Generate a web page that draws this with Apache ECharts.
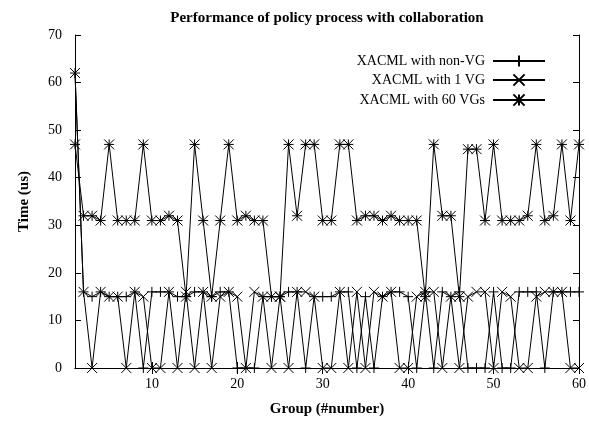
<!DOCTYPE html>
<html>
<head>
<meta charset="utf-8">
<script src="https://cdn.jsdelivr.net/npm/echarts@6/dist/echarts.min.js"></script>
<style>html,body{margin:0;padding:0;background:#fff}#c{width:589px;height:427px}</style>
</head>
<body>
<div id="c"></div>
<script>
var groups = ['1','2','3','4','5','6','7','8','9','10','11','12','13','14','15','16','17','18','19','20',
  '21','22','23','24','25','26','27','28','29','30','31','32','33','34','35','36','37','38','39','40',
  '41','42','43','44','45','46','47','48','49','50','51','52','53','54','55','56','57','58','59','60'];
var nonVG = [62,16,15,16,15,15,15,16,0,16, 16,16,15,15,16,16,15,16,16,0, 0,0,15,15,15,16,16,0,15,15,
  15,16,16,0,15,0,15,16,16,15, 0,16,0,16,15,16,0,0,0,16, 0,0,16,16,16,0,16,16,16,16];
var oneVG = [62,16,0,16,15,15,0,16,15,0, 0,16,0,16,0,16,0,15,16,15, 0,16,15,0,15,0,16,16,15,0,
  0,16,0,16,0,16,15,16,0,0, 15,16,16,0,15,0,15,16,16,0, 16,15,0,0,15,16,16,16,0,0];
var sixtyVG = [47,32,32,31,47,31,31,31,47,31, 31,32,31,15,47,31,15,31,47,31, 32,31,31,15,15,47,32,47,47,31,
  31,47,47,31,32,32,31,32,31,31, 31,15,47,32,32,15,46,46,31,47, 31,31,31,32,47,31,32,47,31,47];
var yTicks = [0,10,20,30,40,50,60,70];
var names = ['XACML with non-VG','XACML with 1 VG','XACML with 60 VGs'];
var titleText = 'Performance of policy process with collaboration';

var FONT = 'Liberation Serif';
var plusSym = 'path://M5,0L5,10M0,5L10,5';
var crossSym = 'path://M0,0L10,10M10,0L0,10';
var starSym = 'path://M5,0L5,10M0,5L10,5M0,0L10,10M10,0L0,10';

function mk(name, data, sym) {
  return {
    name: name, type: 'line', data: data, xAxisIndex: 0, yAxisIndex: 0,
    symbol: sym, symbolSize: 10, showSymbol: true, showAllSymbol: true,
    lineStyle: {color: '#000', width: 1},
    itemStyle: {color: '#000', borderColor: '#000', borderWidth: 1},
    emphasis: {disabled: true}, animation: false
  };
}
function tickInt(i, v) { return Number(v) % 10 === 0; }
function leg(name, top) {
  return {
    data: [name], right: 43, top: top, align: 'right', orient: 'vertical',
    itemWidth: 52, itemHeight: 14, padding: 0,
    textStyle: {fontFamily: FONT, fontSize: 14, color: '#000', padding: [0, 3, 0, 0]},
    selectedMode: false
  };
}
var chart = echarts.init(document.getElementById('c'), null, {renderer: 'canvas'});
chart.setOption({
  animation: false,
  backgroundColor: '#fff',
  grid: {left: 75, right: 9, top: 35, bottom: 59},
  graphic: [{
    type: 'text', x: 327, y: 18,
    style: {text: titleText, font: 'bold 15px "Liberation Serif"', fill: '#000', textAlign: 'center', textVerticalAlign: 'middle'}
  }],
  legend: [leg(names[0], 54), leg(names[1], 73), leg(names[2], 93)],
  xAxis: [{
    type: 'category', data: groups, boundaryGap: false, position: 'bottom',
    name: 'Group (#number)', nameLocation: 'middle', nameGap: 34,
    nameTextStyle: {fontFamily: FONT, fontSize: 15, fontWeight: 'bold', color: '#000'},
    axisLine: {lineStyle: {color: '#000', width: 1}},
    axisTick: {inside: true, length: 6, interval: tickInt, lineStyle: {color: '#000'}},
    axisLabel: {interval: tickInt, fontFamily: FONT, fontSize: 14, color: '#000', margin: 9},
    splitLine: {show: false}
  }, {
    type: 'category', data: groups, boundaryGap: false, position: 'top',
    axisLine: {lineStyle: {color: '#000', width: 1}},
    axisTick: {inside: true, length: 6, interval: tickInt, lineStyle: {color: '#000'}},
    axisLabel: {show: false}, splitLine: {show: false}
  }],
  yAxis: [{
    type: 'value', min: 0, max: 70, interval: 10, position: 'left',
    name: 'Time (us)', nameLocation: 'middle', nameGap: 43, nameRotate: 90,
    nameTextStyle: {fontFamily: FONT, fontSize: 15, fontWeight: 'bold', color: '#000'},
    axisLine: {show: true, lineStyle: {color: '#000', width: 1}},
    axisTick: {show: true, inside: true, length: 6, lineStyle: {color: '#000'}},
    axisLabel: {fontFamily: FONT, fontSize: 14, color: '#000', margin: 13,
      formatter: function (v) { return yTicks.indexOf(v) >= 0 ? String(v) : ''; }},
    splitLine: {show: false}
  }, {
    type: 'value', min: 0, max: 70, interval: 10, position: 'right',
    axisLine: {show: true, lineStyle: {color: '#000', width: 1}},
    axisTick: {show: true, inside: true, length: 6, lineStyle: {color: '#000'}},
    axisLabel: {show: false}, splitLine: {show: false}
  }],
  series: [mk(names[0], nonVG, plusSym), mk(names[1], oneVG, crossSym), mk(names[2], sixtyVG, starSym)]
});
</script>
</body>
</html>
